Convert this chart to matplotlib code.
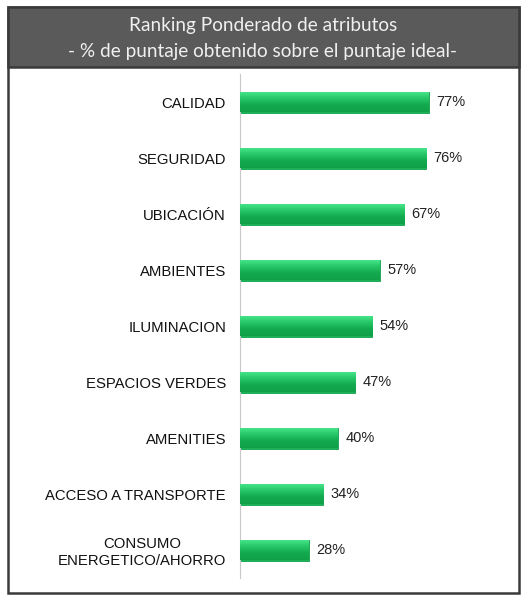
import matplotlib.pyplot as plt
import numpy as np
from matplotlib.patches import Rectangle
from matplotlib.colors import LinearSegmentedColormap

# Data
categories = ['CALIDAD', 'SEGURIDAD', 'UBICACIÓN', 'AMBIENTES', 'ILUMINACION',
              'ESPACIOS VERDES', 'AMENITIES', 'ACCESO A TRANSPORTE',
              'CONSUMO\nENERGETICO/AHORRO']
values = [77, 76, 67, 57, 54, 47, 40, 34, 28]

W, H = 529, 600
fig = plt.figure(figsize=(W / 100, H / 100), dpi=100)
fig.patch.set_facecolor('white')


def fx(px):
    return px / W


def fy(py):
    return 1 - py / H


# Outer frame and dark header
fig.patches.append(Rectangle((fx(8), fy(593)), fx(511), 586 / H, transform=fig.transFigure,
                             facecolor='white', edgecolor='#3a3a3a', linewidth=1.8, zorder=-2))
fig.patches.append(Rectangle((fx(8), fy(67)), fx(511), 60 / H, transform=fig.transFigure,
                             facecolor='#5a5a5a', edgecolor='#3a3a3a', linewidth=1.8, zorder=-1))
fig.text(fx(263), fy(25), 'Ranking Ponderado de atributos', ha='center', va='center',
         color='#f0f0f0', fontsize=13.7, family='Lato')
fig.text(fx(263), fy(52), '- % de puntaje obtenido sobre el puntaje ideal-', ha='center',
         va='center', color='#f0f0f0', fontsize=13.7, family='Lato')

ax = fig.add_axes([fx(240), 22 / H, fx(245), 504 / H], zorder=5)
ax.set_facecolor('none')
y = np.arange(len(categories))
bh = 0.375
bars = ax.barh(y, values, height=bh, color='#19b257', edgecolor='#14a04b', linewidth=0.6, zorder=2)

# vertical gradient inside each bar (light top, deeper green bottom)
grad_cmap = LinearSegmentedColormap.from_list('g', ['#4ce990', '#27c868', '#13a94f', '#10a048'])
grad = np.linspace(0, 1, 64).reshape(-1, 1)
for b in bars:
    x0, y0 = b.get_x(), b.get_y()
    im = ax.imshow(grad, cmap=grad_cmap, aspect='auto', zorder=3,
                   extent=[x0, x0 + b.get_width(), y0 + b.get_height(), y0],
                   interpolation='bicubic')
    im.set_clip_path(b)

for yi, v in zip(y, values):
    ax.text(v + 3, yi, f'{v}%', va='center', ha='left', fontsize=10.5,
            family='Liberation Sans', color='#222222')

ax.set_xlim(0, 100)
ax.set_ylim(len(categories) - 0.5, -0.5)
ax.set_yticks(y)
ax.set_yticklabels(categories, fontsize=10.7, family='Liberation Sans', color='#111111',
                   multialignment='center')
ax.tick_params(axis='y', length=0, pad=10)
ax.set_xticks([])
for s in ['top', 'right', 'bottom']:
    ax.spines[s].set_visible(False)
ax.spines['left'].set_color('#c8c8c8')
ax.spines['left'].set_linewidth(0.8)

fig.savefig('out.png', dpi=100)
